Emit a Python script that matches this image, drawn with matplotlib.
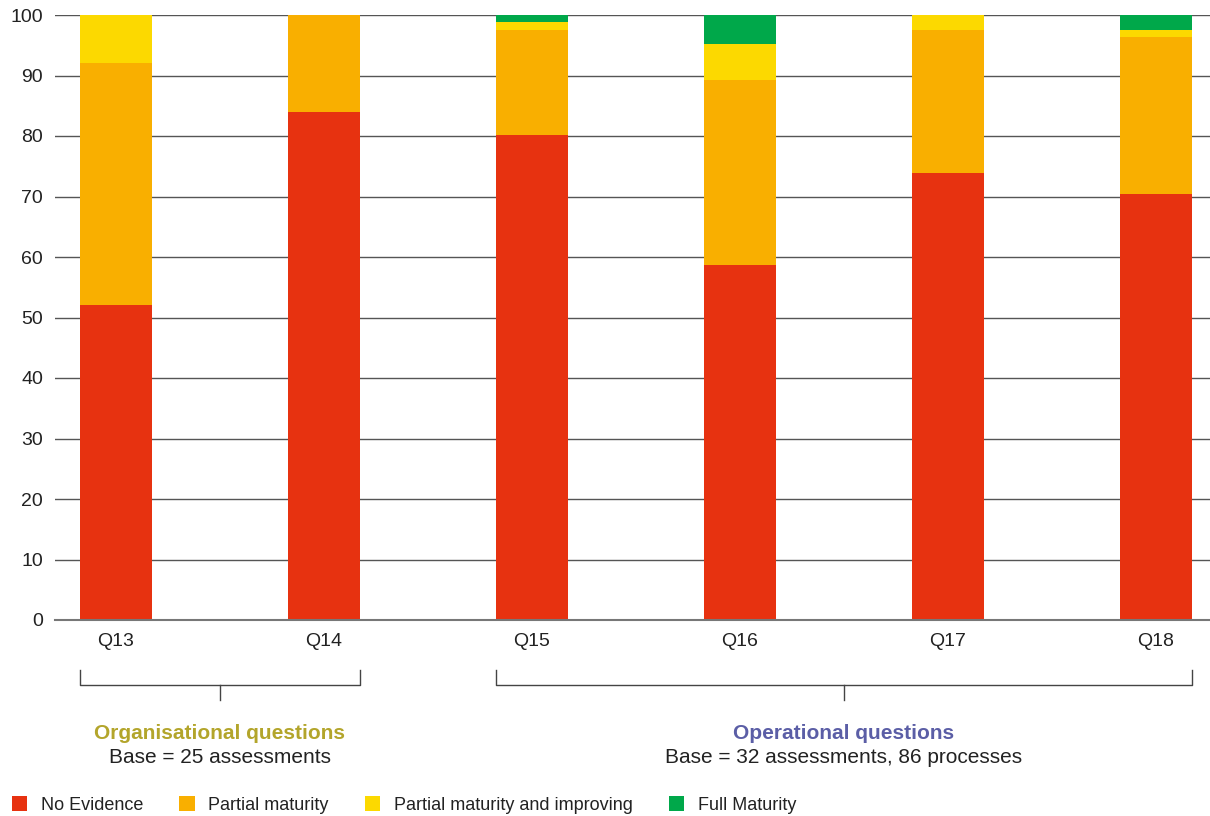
import matplotlib
matplotlib.use("Agg")
import matplotlib.pyplot as plt
import matplotlib.transforms as mtransforms
from matplotlib.patches import Patch
import numpy as np

plt.rcParams['font.family'] = ['Liberation Sans', 'DejaVu Sans']

# data (percent of answers)
questions = ['Q13', 'Q14', 'Q15', 'Q16', 'Q17', 'Q18']
no_evidence = [52.0, 84.0, 80.2, 58.7, 73.9, 70.4]
partial = [40.0, 16.0, 17.4, 30.6, 23.6, 26.0]
partial_improving = [8.0, 0.0, 1.2, 5.9, 2.5, 1.1]
full = [0.0, 0.0, 1.2, 4.8, 0.0, 2.5]

series_names = ['No Evidence', 'Partial maturity', 'Partial maturity and improving', 'Full Maturity']
colors = ['#E73210', '#F9AF00', '#FCD900', '#00A84A']

groups = ['Organisational questions', 'Operational questions']
group_bases = ['Base = 25 assessments', 'Base = 32 assessments, 86 processes']
group_spans = [(0, 1), (2, 5)]
group_colors = ['#B3A52B', '#5B5EA6']

fig = plt.figure(figsize=(12.1, 8.16), dpi=100)
ax = fig.add_axes([55/1210, 1-620/816, 1-55/1210, 605/816])

x = np.arange(len(questions))
w = 0.35
bottom = np.zeros(len(questions))
for vals, c in zip([no_evidence, partial, partial_improving, full], colors):
    ax.bar(x, vals, w, bottom=bottom, color=c, zorder=2)
    bottom += np.array(vals)

ax.set_ylim(0, 100)
ax.set_xlim(-0.293, 5.26)
ax.set_yticks(range(0, 101, 10))
ax.set_xticks(x)
ax.set_xticklabels(questions)
ax.tick_params(axis='both', length=0, labelsize=14, colors='#222222')
ax.tick_params(axis='y', pad=8.5)
ax.tick_params(axis='x', pad=9)
for s in ['top', 'right', 'left']:
    ax.spines[s].set_visible(False)
ax.spines['bottom'].set_color('#777777')
ax.spines['bottom'].set_linewidth(1.5)
ax.yaxis.grid(True, color='#555555', linewidth=1, zorder=0)
ax.set_axisbelow(True)

# group brackets under the x axis
trans = mtransforms.blended_transform_factory(ax.transData, ax.transAxes)
for (a, b), name, base, gc in zip(group_spans, groups, group_bases, group_colors):
    l, r = a - w/2, b + w/2
    mid = (a + b) / 2
    ax.plot([l, l, r, r], [-0.083, -0.107, -0.107, -0.083], color='#444444', lw=1,
            transform=trans, clip_on=False)
    ax.plot([mid, mid], [-0.107, -0.132], color='#444444', lw=1,
            transform=trans, clip_on=False)
    ax.text(mid, -0.188, name, color=gc, fontsize=15, fontweight='bold',
            ha='center', va='center', transform=trans)
    ax.text(mid, -0.228, base, color='#222222', fontsize=15,
            ha='center', va='center', transform=trans)

handles = [Patch(facecolor=c, edgecolor='none') for c in colors]
fig.legend(handles, series_names, loc='center left', bbox_to_anchor=(12/1210, 1-805/816),
           ncol=4, frameon=False, fontsize=13, handlelength=0.85, handleheight=0.85,
           handletextpad=0.75, columnspacing=2.0, borderpad=0, borderaxespad=0,
           labelcolor='#222222')

fig.savefig('out.png', dpi=100)
